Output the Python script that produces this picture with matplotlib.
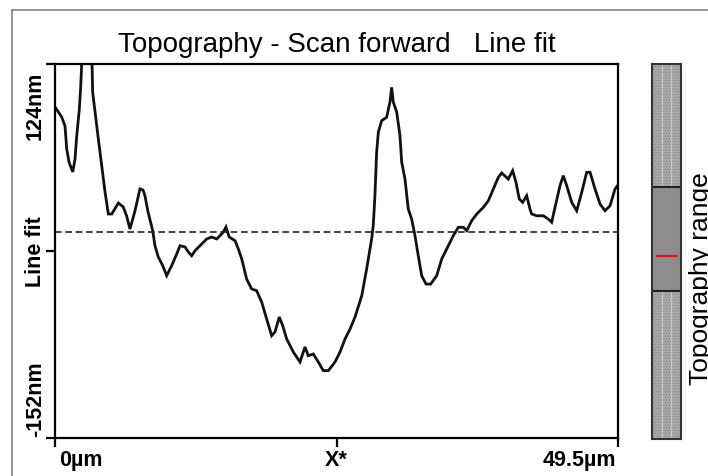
import matplotlib
matplotlib.use("Agg")
import matplotlib.pyplot as plt
import matplotlib.transforms as mtransforms
from matplotlib.patches import Rectangle
from matplotlib.lines import Line2D

# Line profile along the scan (position in µm, height in nm after line fit)
x_um = [0.0, 0.59, 0.88, 1.03, 1.23, 1.56, 1.76, 1.91, 2.14, 2.26, 2.40, 3.23,
        3.31, 3.52, 3.81, 4.11, 4.40, 4.69, 4.99, 5.57, 6.00, 6.30, 6.59, 7.03,
        7.47, 7.74, 7.91, 8.18, 8.59, 8.79, 9.08, 9.47, 9.82, 10.26, 10.70, 10.99,
        11.43, 11.72, 12.02, 12.31, 12.75, 13.34, 13.78, 14.22, 14.51, 14.80, 15.03,
        15.32, 15.83, 16.12, 16.42, 16.85, 17.29, 17.73, 18.17, 18.61, 19.05, 19.34,
        19.72, 20.02, 20.37, 20.95, 21.54, 21.98, 22.27, 22.71, 23.15, 23.59, 24.03,
        24.62, 25.06, 25.50, 25.94, 26.38, 26.97, 27.40, 27.84, 27.98, 28.13, 28.28,
        28.43, 28.72, 29.16, 29.45, 29.60, 29.74, 30.04, 30.33, 30.48, 30.77, 31.06,
        31.36, 31.65, 31.94, 32.24, 32.62, 33.03, 33.56, 34.00, 34.44, 35.02, 35.46,
        35.90, 36.20, 36.64, 37.08, 37.66, 38.10, 38.54, 38.98, 39.27, 39.85, 40.24,
        40.53, 40.82, 41.12, 41.47, 41.76, 41.91, 42.35, 42.93, 43.37, 43.67, 43.96,
        44.40, 44.69, 44.99, 45.43, 45.87, 46.31, 46.75, 47.04, 47.48, 47.92, 48.36,
        48.80, 49.24, 49.50]
z_nm = [92.3, 84.9, 78.2, 61.3, 51.7, 44.3, 53.9, 70.9, 90.8, 107.0, 135.0, 135.0,
        103.3, 88.6, 68.7, 48.7, 29.5, 13.3, 13.3, 21.4, 18.5, 11.8, 2.2, 15.5,
        31.8, 31.0, 26.8, 14.8, 1.0, -10.1, -18.4, -24.8, -32.2, -24.8, -16.2, -10.1,
        -11.0, -14.7, -17.5, -13.8, -10.1, -5.1, -3.7, -5.1, -2.7, 0.0, 3.7,
        -3.7, -6.4, -12.5, -19.9, -34.7, -42.0, -43.3, -51.6, -64.2, -76.5, -73.8,
        -62.7, -69.1, -78.9, -88.5, -95.9, -84.8, -91.3, -90.0, -95.9, -102.3, -102.3,
        -95.9, -88.5, -78.9, -71.6, -62.7, -47.0, -27.3, -5.1, 4.7, 26.8, 59.1,
        73.8, 82.2, 84.7, 96.0, 106.8, 96.0, 88.6, 71.1, 51.7, 39.1, 17.0,
        9.6, -2.7, -17.5, -32.2, -38.4, -38.4, -32.2, -19.9, -12.5, -2.7, 3.5,
        3.5, 1.0, 8.4, 13.3, 18.2, 23.1, 31.8, 40.4, 43.6, 39.1, 45.3,
        36.7, 24.4, 21.9, 26.8, 17.0, 13.3, 12.0, 12.0, 9.6, 7.2, 18.2,
        34.2, 41.6, 34.2, 21.9, 15.7, 29.3, 44.1, 44.1, 31.8, 20.7, 15.7,
        19.4, 31.8, 34.7]

z_min, z_max = -152, 124
x_max = 49.5
reference_level = 0.0
y_ticks = [-152, -14, 124]
y_tick_labels = ["-152nm", "Line fit", "124nm"]
x_ticks = [0.0, 24.75, 49.5]
x_tick_labels = ["0µm", "X*", "49.5µm"]
title = "Topography - Scan forward   Line fit"
range_label = "Topography range"
# displayed window and cursor inside the full topography range (fractions)
window_lo, window_hi = 0.395, 0.672
cursor_level = 0.488

W, H = 708, 477
plt.rcParams["font.family"] = ["Liberation Sans", "DejaVu Sans"]
plt.rcParams["hatch.linewidth"] = 0.6

fig = plt.figure(figsize=(W / 100, H / 100), dpi=100)
fig.patch.set_facecolor("white")

# frame around the panel
fig.add_artist(Line2D([12 / W, 12 / W], [0, 1 - 11 / H], transform=fig.transFigure,
                      color="#8a8a8a", lw=1.3))
fig.add_artist(Line2D([12 / W, 1], [1 - 11 / H, 1 - 11 / H], transform=fig.transFigure,
                      color="#8a8a8a", lw=1.3))

ax = fig.add_axes([55 / W, 38 / H, 563 / W, 374 / H])
ax.plot(x_um, z_nm, color="#111111", lw=2.0, solid_joinstyle="miter")
ax.axhline(reference_level, color="#222222", lw=1.2, linestyle=(0, (4, 2.2)))
ax.set_xlim(0, x_max)
ax.set_ylim(z_min, z_max)

for s in ax.spines.values():
    s.set_linewidth(1.6)
    s.set_color("black")

ax.set_xticks(x_ticks)
ax.set_yticks(y_ticks)
ax.tick_params(direction="out", length=6.5, width=1.6, color="black",
               labelbottom=False, labelleft=False)

ax.set_title(title, fontsize=20, pad=9, color="black")

def offset(dx_px, dy_px):
    return mtransforms.ScaledTranslation(dx_px / 100, dy_px / 100, fig.dpi_scale_trans)

ytr = ax.get_yaxis_transform()
y_align = ["bottom", "center", "top"]
y_shift = [2, 0, -7]
for val, lab, va, dy in zip(y_ticks, y_tick_labels, y_align, y_shift):
    ax.text(0, val, lab, transform=ytr + offset(-9, dy), rotation=90,
            ha="right", va=va, fontsize=15.5, fontweight="bold", color="black")

xtr = ax.get_xaxis_transform()
x_align = ["left", "center", "right"]
x_shift = [4, 0, -2]
for val, lab, ha, dx in zip(x_ticks, x_tick_labels, x_align, x_shift):
    ax.text(val, 0, lab, transform=xtr + offset(dx, -11), ha=ha, va="top",
            fontsize=15.5, fontweight="bold", color="black")

# range indicator bar
cax = fig.add_axes([652 / W, 37 / H, 29 / W, 375 / H])
cax.set_xlim(0, 1)
cax.set_ylim(0, 1)
cax.set_xticks([])
cax.set_yticks([])
for s in cax.spines.values():
    s.set_linewidth(1.5)
    s.set_color("#333333")
for y0, y1 in [(0, window_lo), (window_hi, 1)]:
    cax.add_patch(Rectangle((0, y0), 1, y1 - y0, facecolor="#aaaaaa",
                            edgecolor="#858585", hatch="......", lw=0))
    for xv in (0.36, 0.66):
        cax.plot([xv, xv], [y0, y1], color="#c6c6c6", lw=0.9)
cax.add_patch(Rectangle((0, window_lo), 1, window_hi - window_lo,
                        facecolor="#8d8d8d", edgecolor="none"))
cax.axhline(window_lo, color="#222222", lw=1.5)
cax.axhline(window_hi, color="#222222", lw=1.5)
cax.plot([0.17, 0.86], [cursor_level, cursor_level], color="#e8141b", lw=1.6)

# label sits against the right edge of the panel
fig.text(689 / W, 1 - 279 / H, range_label, rotation=90, ha="left", va="center",
         fontsize=19, color="black")

fig.savefig("out.png", dpi=100)
